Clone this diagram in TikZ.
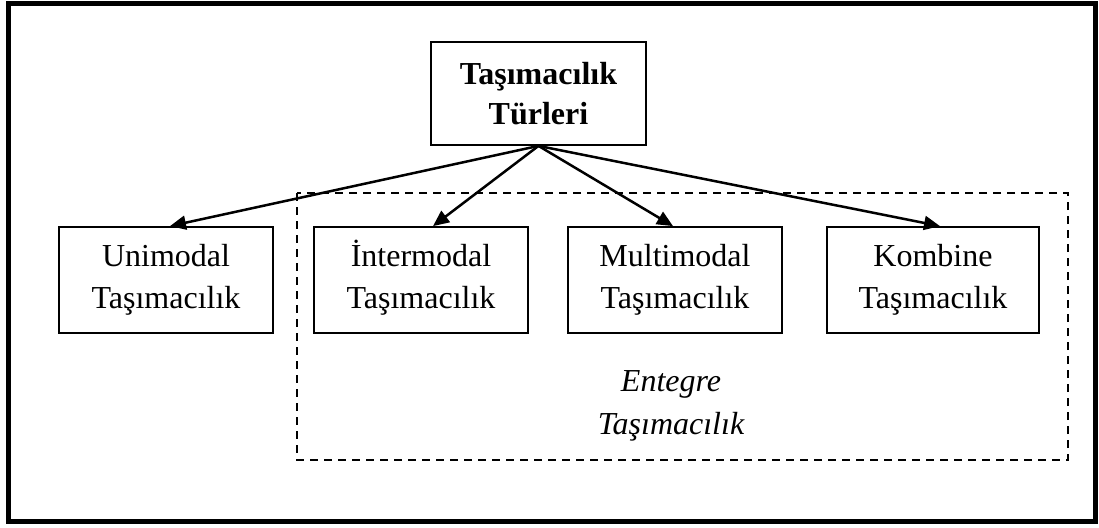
\documentclass[tikz,border=0pt]{standalone}
\usepackage{fontspec}
\setmainfont{Liberation Serif}
\usetikzlibrary{arrows.meta}
\tikzset{
  box/.style={draw, line width=1.8pt, minimum width=214pt, minimum height=106pt, align=center, inner sep=0pt, font=\fontsize{32}{42}\selectfont},
  conn/.style={line width=2.5pt, -{Triangle[length=16pt,width=14pt]}},
  dashbox/.style={draw, line width=1.8pt, dash pattern=on 8pt off 6pt},
}
\begin{document}
\begin{tikzpicture}[x=1pt,y=-1pt]
\useasboundingbox (0,0) rectangle (1099,527);
\draw[line width=5pt] (8,4) rectangle (1095,521);
\draw[dashbox] (297,193) rectangle (1068,460);
\node[box, minimum width=215pt, minimum height=103pt, font=\fontsize{32}{40}\selectfont\bfseries] (top) at (538.5,93.5) {Taşımacılık\\Türleri};
\node[box] (uni) at (166,280) {Unimodal\\Taşımacılık};
\node[box] (inter) at (421,280) {\smash{İ}ntermodal\\Taşımacılık};
\node[box] (multi) at (675,280) {Multimodal\\Taşımacılık};
\node[box, minimum width=212pt] (komb) at (933,280) {Kombine\\Taşımacılık};
\node[font=\fontsize{32}{43}\selectfont\itshape, align=center, inner sep=0pt] (ent) at (671,406) {Entegre\\Taşımacılık};
\draw[conn] (top.south) -- ([xshift=4pt]uni.north);
\draw[conn] (top.south) -- ([xshift=12pt]inter.north);
\draw[conn] (top.south) -- ([xshift=-2pt]multi.north);
\draw[conn] (top.south) -- ([xshift=7pt]komb.north);
\end{tikzpicture}
\end{document}
